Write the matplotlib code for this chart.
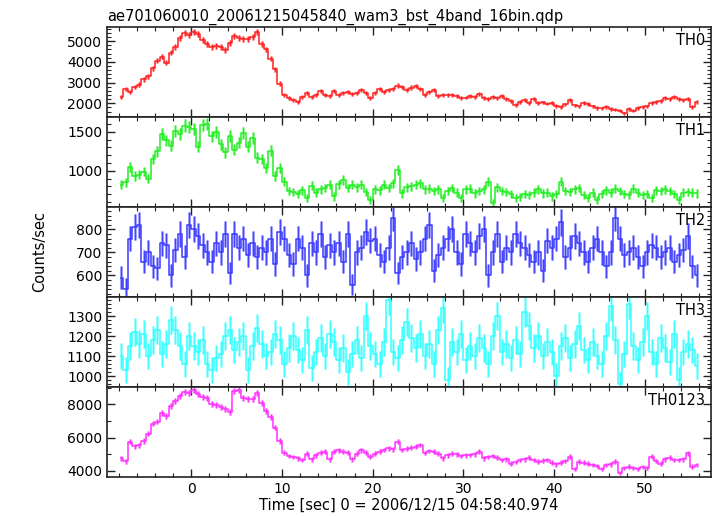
import numpy as np
import matplotlib
matplotlib.use("Agg")
import matplotlib.pyplot as plt
from matplotlib.ticker import MultipleLocator

plt.rcParams['font.family'] = ['DejaVu Sans']

title = "ae701060010_20061215045840_wam3_bst_4band_16bin.qdp"
xlabel = "Time [sec] 0 = 2006/12/15 04:58:40.974"
ylabel = "Counts/sec"
panel_names = ["TH0", "TH1", "TH2", "TH3", "TH0123"]

t_start = -8.0
bin_width = 0.5
exposure = 0.25  # native time resolution used for the counting errors

th0 = [
    2290, 2680, 2560, 2780, 2900, 3150, 3300, 3700,
    4050, 4250, 3950, 4450, 4700, 5150, 5380, 5290,
    5450, 5350, 5050, 4850, 4700, 4780, 4720, 4580,
    4900, 5250, 5150, 5120, 5080, 5200, 5450, 4850,
    4600, 4150, 3650, 2950, 2420, 2250, 2150, 2080,
    2300, 2500, 2320, 2420, 2600, 2400, 2330, 2600,
    2420, 2500, 2540, 2450, 2500, 2650, 2480, 2260,
    2500, 2700, 2550, 2640, 2700, 2850, 2780, 2640,
    2760, 2830, 2700, 2420, 2550, 2640, 2330, 2420,
    2380, 2400, 2350, 2260, 2280, 2350, 2320, 2470,
    2250, 2200, 2300, 2250, 2350, 2220, 2100, 1920,
    2050, 2180, 2000, 2200, 2000, 2040, 1990, 2000,
    1880, 1820, 1950, 2170, 1900, 1850, 2000, 1980,
    1850, 1780, 1760, 1820, 1720, 1700, 1650, 1520,
    1720, 1650, 1780, 1820, 1850, 2000, 2050, 2100,
    2250, 2200, 2300, 2200, 2180, 2200, 1820, 2080,
]

th1 = [
    820, 850, 1050, 930, 950, 990, 900, 1150,
    1250, 1470, 1390, 1320, 1510, 1470, 1580, 1560,
    1540, 1310, 1590, 1600, 1440, 1500, 1340, 1240,
    1450, 1270, 1360, 1490, 1310, 1420, 1170, 1150,
    1030, 1260, 930, 1030, 860, 740, 730, 700,
    750, 650, 810, 720, 760, 780, 820, 670,
    830, 880, 780, 820, 790, 820, 730, 630,
    760, 750, 820, 780, 840, 1010, 710, 790,
    800, 820, 840, 760, 770, 740, 760, 650,
    740, 780, 720, 650, 760, 770, 710, 740,
    760, 860, 590, 790, 740, 730, 700, 650,
    660, 700, 690, 720, 760, 710, 720, 670,
    700, 860, 740, 730, 760, 780, 690, 650,
    720, 630, 700, 750, 720, 770, 740, 700,
    690, 770, 720, 690, 700, 650, 750, 740,
    760, 740, 700, 630, 720, 730, 720, 710,
]

th2 = [
    590, 540, 760, 810, 820, 660, 700, 640,
    630, 740, 730, 600, 710, 780, 680, 820,
    800, 770, 730, 700, 660, 740, 700, 780,
    610, 780, 720, 760, 690, 740, 680, 720,
    700, 760, 650, 790, 760, 690, 650, 760,
    720, 600, 740, 700, 780, 680, 730, 700,
    740, 660, 780, 560, 700, 720, 790, 750,
    760, 690, 660, 720, 850, 610, 680, 700,
    740, 670, 700, 760, 820, 620, 690, 720,
    760, 800, 700, 650, 780, 740, 700, 770,
    800, 600, 700, 780, 660, 720, 700, 780,
    740, 720, 690, 660, 700, 620, 750, 720,
    760, 830, 680, 720, 770, 740, 700, 660,
    720, 760, 700, 640, 700, 850, 760, 690,
    700, 720, 680, 640, 700, 730, 720, 680,
    700, 720, 660, 690, 710, 770, 640, 600,
]

th3 = [
    1100, 1030, 1150, 1220, 1160, 1210, 1100, 1180,
    1230, 1110, 1160, 1280, 1230, 1150, 1060, 1200,
    1150, 1120, 1180, 1060, 1030, 1090, 1110, 1200,
    1230, 1130, 1170, 1200, 1030, 1150, 1240, 1160,
    1100, 1120, 1210, 1180, 1060, 1140, 1200, 1130,
    1080, 1230, 1040, 1120, 1190, 1100, 1210, 1170,
    1080, 1140, 1020, 1110, 1180, 1090, 1300, 1150,
    1110, 1060, 1170, 1380, 1120, 1090, 1180, 1270,
    1190, 1140, 1210, 1100, 1160, 1060, 1230, 1340,
    980, 1170, 1120, 1210, 1080, 1150, 1100, 1190,
    1140, 1060, 1200, 1300, 1120, 1160, 1090, 1180,
    1110, 1320, 1250, 1140, 1200, 1100, 1170, 1120,
    1000, 1150, 1190, 1090, 1160, 1250, 1130, 1080,
    1170, 1100, 1060, 1200, 1350, 1180, 960, 1110,
    1360, 1150, 1080, 1170, 1300, 1120, 1060, 1190,
    1140, 1070, 1210, 980, 1120, 1160, 1130, 1050,
]

th0123 = [
    4760, 4580, 5750, 5480, 5550, 5800, 6250, 6850,
    6960, 7460, 7300, 7900, 8200, 8500, 8760, 8660,
    8850, 8600, 8460, 8360, 8020, 7950, 7850, 7700,
    7560, 8800, 8850, 8360, 8300, 8300, 8700, 8100,
    7600, 7250, 6600, 5800, 5100, 4900, 4850, 4760,
    4650, 5050, 4700, 4950, 5100, 5150, 4700, 5150,
    5250, 5160, 5100, 4700, 5050, 5250, 5100, 4860,
    5050, 5150, 5260, 5360, 5300, 5760, 5260, 5350,
    5400, 5450, 5560, 5080, 5200, 5160, 5050, 4760,
    4950, 5040, 5000, 4900, 4950, 4960, 5000, 5160,
    4760, 4850, 4900, 4800, 4660, 4700, 4440, 4550,
    4660, 4700, 4800, 4650, 4560, 4620, 4660, 4500,
    4400, 4500, 4600, 4860, 4140, 4560, 4500, 4450,
    4360, 4300, 4140, 4350, 4400, 4560, 3860, 4200,
    4260, 4200, 4140, 4250, 4200, 4860, 4600, 4440,
    4700, 4800, 4660, 4650, 4700, 5060, 4260, 4360,
]

series = [th0, th1, th2, th3, th0123]
colors = ["#ff2020", "#22ee22", "#3a3aff", "#33ffff", "#ff30ff"]
ylims = [(1340, 5680), (535, 1690), (506, 897), (945, 1395), (3640, 9040)]
ymajor = [1000, 500, 100, 100, 2000]
yminor = [200, 100, 20, 20, 1000]

W, H = 717, 516
fig = plt.figure(figsize=(W / 100, H / 100), dpi=100)
left, right = 107 / W, 711 / W
top_px, bottom_px = 27, 477
ph = (bottom_px - top_px) / 5

axes = []
for i, (vals, col, name) in enumerate(zip(series, colors, panel_names)):
    y0 = 1 - (top_px + (i + 1) * ph) / H
    ax = fig.add_axes([left, y0, right - left, ph / H])
    v = np.asarray(vals, dtype=float)
    t = t_start + bin_width * (np.arange(len(v)) + 0.5)
    err = np.sqrt(v / exposure)
    ax.errorbar(t, v, yerr=err, fmt='none', ecolor=col, elinewidth=2.2,
                alpha=0.45, capsize=0)
    ax.errorbar(t, v, yerr=err, fmt='none', ecolor=col, elinewidth=0.8,
                alpha=0.9, capsize=0)
    ax.step(t, v, where='mid', color=col, lw=1.1)
    ax.set_xlim(-9.3, 57.3)
    ax.set_ylim(*ylims[i])
    ax.xaxis.set_major_locator(MultipleLocator(10))
    ax.xaxis.set_minor_locator(MultipleLocator(2))
    ax.yaxis.set_major_locator(MultipleLocator(ymajor[i]))
    ax.yaxis.set_minor_locator(MultipleLocator(yminor[i]))
    ax.tick_params(which='both', direction='in', top=True, right=True,
                   labelsize=10, colors='#222222', labelcolor='black')
    ax.tick_params(which='major', length=6, width=1.0)
    ax.tick_params(which='minor', length=3, width=0.8)
    for s in ax.spines.values():
        s.set_linewidth(1.2)
        s.set_color('#222222')
    if i < 4:
        ax.tick_params(labelbottom=False)
    ax.text(0.99, 0.93, name, transform=ax.transAxes, ha='right', va='top',
            fontsize=10.5)
    axes.append(ax)

fig.text(left, 1 - 21 / H, title, ha='left', va='baseline', fontsize=10.5)
fig.text(40 / W, 1 - 252 / H, ylabel, rotation=90, ha='center', va='center',
         fontsize=10.5)
fig.text((left + right) / 2, 1 - 505 / H, xlabel, ha='center', va='center',
         fontsize=10.5)

fig.savefig("out.png", dpi=100)
